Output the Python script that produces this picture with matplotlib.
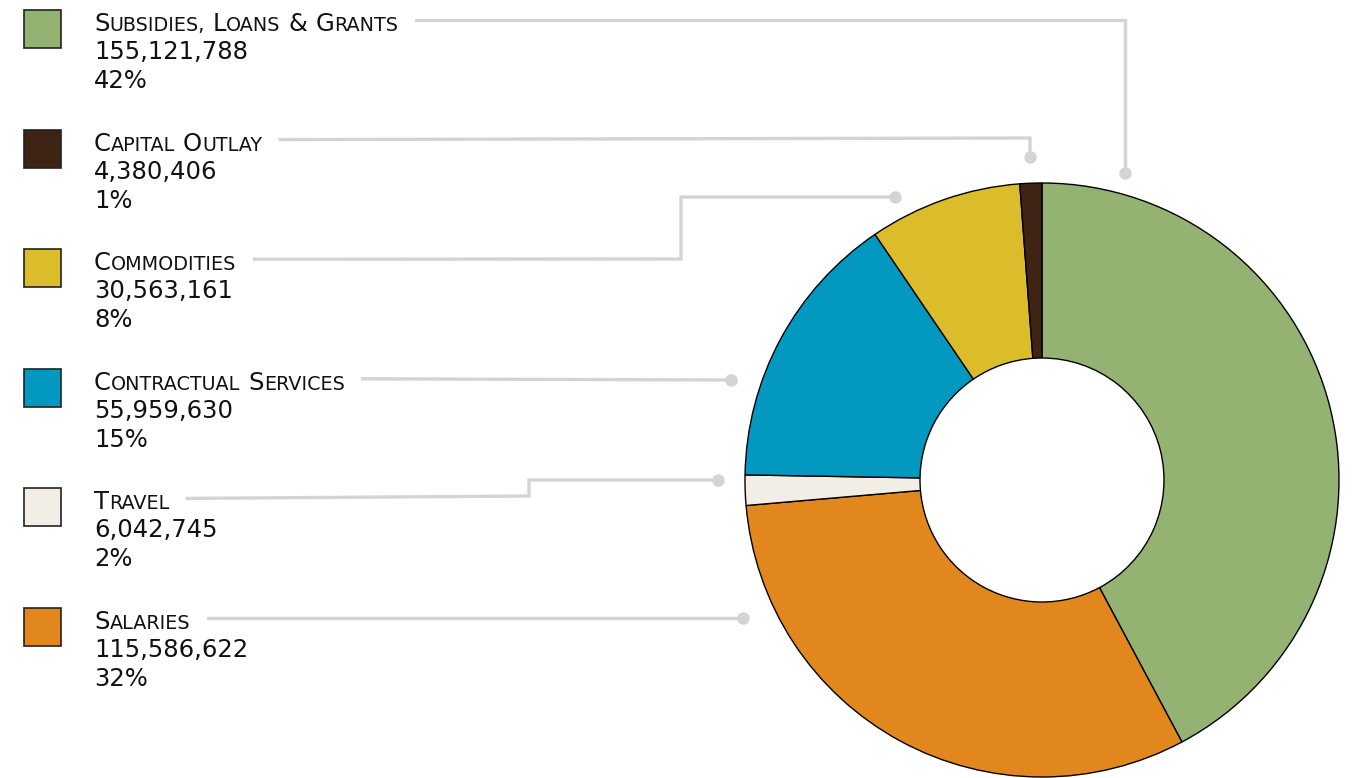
import matplotlib
matplotlib.use("Agg")
import matplotlib.pyplot as plt
from matplotlib.patches import Rectangle

# data, in legend order
categories = ["Subsidies, Loans & Grants", "Capital Outlay", "Commodities",
              "Contractual Services", "Travel", "Salaries"]
amounts = [155121788, 4380406, 30563161, 55959630, 6042745, 115586622]
percents = ["42%", "1%", "8%", "15%", "2%", "32%"]
colors = ["#94b373", "#3f2416", "#dbbc2a", "#0298c0", "#f2eee6", "#e2871e"]

# clockwise order of the slices, starting at 12 o'clock
pie_order = [0, 5, 4, 3, 2, 1]

# leader line elbows (pixel coords): list of (x, y) after the text end
leaders = [
    [(1125, 20), (1125, 173)],
    [(1030, 138), (1030, 157)],
    [(681, 259), (681, 197), (895, 197)],
    [(731, 380)],
    [(529, 496), (529, 480), (718, 480)],
    [(743, 618)],
]

W, H = 1356, 778
fig = plt.figure(figsize=(W / 100, H / 100), dpi=100)
ax = fig.add_axes([0, 0, 1, 1])

cx, cy, R, r_in = 1042, 480, 297, 122
ax.pie([amounts[i] for i in pie_order],
       colors=[colors[i] for i in pie_order],
       center=(cx, cy), radius=R, startangle=-90, counterclock=True,
       wedgeprops=dict(width=R - r_in, edgecolor="black", linewidth=1.0))

ax.set_xlim(0, W)
ax.set_ylim(H, 0)
ax.set_aspect("equal")
ax.axis("off")

renderer = fig.canvas.get_renderer()
big, small = 17.5, 13.8
line_col = "#d4d4d4"


def small_caps(x, y, label):
    """Draw label in fake small caps, return right edge in pixels."""
    for w_i, word in enumerate(label.split(" ")):
        if w_i:
            x += big * 0.45
        pieces = [(word[0], big), (word[1:].upper(), small)] if word[0].isalpha() \
            else [(word, big)]
        for txt, size in pieces:
            if not txt:
                continue
            t = ax.text(x, y, txt, fontsize=size, ha="left", va="baseline",
                        color="#111111", family="DejaVu Sans")
            x += t.get_window_extent(renderer).width
    return x


for i, cat in enumerate(categories):
    top = 10 + i * 119.6
    ax.add_patch(Rectangle((24, top), 37, 38, facecolor=colors[i],
                           edgecolor="#222222", linewidth=1.2))
    right = small_caps(94, top + 21, cat)
    ax.text(94, top + 49, f"{amounts[i]:,}", fontsize=big, ha="left",
            va="baseline", color="#111111")
    ax.text(94, top + 78, percents[i], fontsize=big, ha="left",
            va="baseline", color="#111111")

    line_y = top + 10
    pts = [(right + 18, line_y)] + leaders[i]
    xs, ys = zip(*pts)
    ax.plot(xs, ys, color=line_col, lw=2.4, solid_joinstyle="miter")
    ax.plot(xs[-1], ys[-1], "o", color=line_col, ms=9, mec="none")

fig.savefig("out.png", dpi=100)
